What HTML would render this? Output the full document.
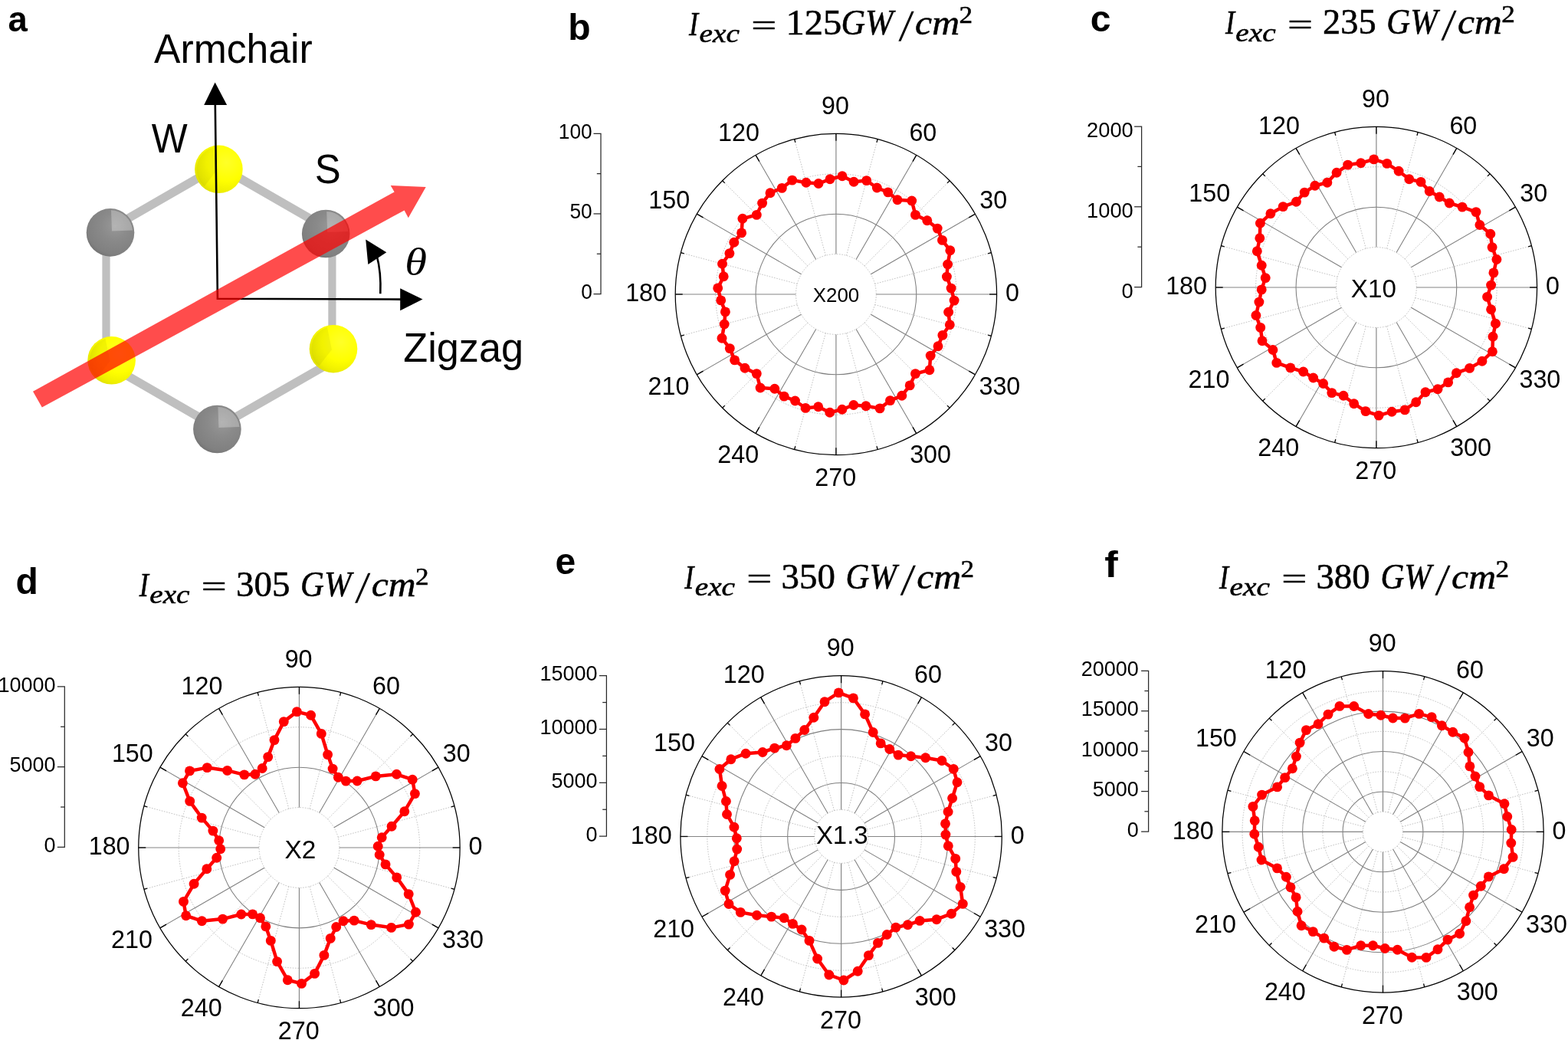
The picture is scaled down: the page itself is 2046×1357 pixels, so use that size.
<!DOCTYPE html>
<html><head><meta charset="utf-8"><title>Polar SHG figure</title>
<style>
html,body{margin:0;padding:0;background:#fff;width:2046px;height:1357px;overflow:hidden}
svg{display:block}
.mn{fill:none;stroke:#c2c2c2;stroke-width:1;stroke-dasharray:1.6 1.7}
.mj{fill:none;stroke:#7e7e7e;stroke-width:1.05}
.mjx{fill:none;stroke:#848484;stroke-width:1.15}
.tk{stroke:#000;stroke-width:1.3}
.oc{fill:none;stroke:#000;stroke-width:1.25}
.ax{fill:none;stroke:#2a2a2a;stroke-width:1.25}
.dl{fill:none;stroke:#ff0000;stroke-width:4.5;stroke-linejoin:round}
.dp{fill:#ff0000}
</style></head><body>
<svg width="2046" height="1357" viewBox="0 0 2046 1357">
<rect width="2046" height="1357" fill="#fff"/>
<defs>
<radialGradient id="gy" cx="0.66" cy="0.36" r="0.78"><stop offset="0" stop-color="#ffff28"/><stop offset="0.5" stop-color="#ffff00"/><stop offset="0.78" stop-color="#efef00"/><stop offset="0.93" stop-color="#dede00"/><stop offset="1" stop-color="#c4c41a"/></radialGradient>
<radialGradient id="gg" cx="0.6" cy="0.36" r="0.72"><stop offset="0" stop-color="#989898"/><stop offset="0.4" stop-color="#8a8a8a"/><stop offset="0.82" stop-color="#808080"/><stop offset="0.95" stop-color="#727272"/><stop offset="1" stop-color="#6a6a6a"/></radialGradient>
</defs>
<line x1="285.4" y1="216.7" x2="138.5" y2="301.5" stroke="#bfbfbf" stroke-width="11.2" stroke-linecap="round"/>
<line x1="285.4" y1="216.7" x2="433.4" y2="301.9" stroke="#bfbfbf" stroke-width="11.2" stroke-linecap="round"/>
<line x1="138.5" y1="301.5" x2="138.5" y2="474.3" stroke="#bfbfbf" stroke-width="10.2" stroke-linecap="round"/>
<line x1="433.4" y1="301.9" x2="433.4" y2="472.0" stroke="#bfbfbf" stroke-width="10.2" stroke-linecap="round"/>
<line x1="138.5" y1="474.3" x2="283.4" y2="558.0" stroke="#bfbfbf" stroke-width="11.2" stroke-linecap="round"/>
<line x1="433.4" y1="472.0" x2="283.4" y2="558.0" stroke="#bfbfbf" stroke-width="11.2" stroke-linecap="round"/>
<circle cx="144.0" cy="303.4" r="31.3" fill="url(#gg)"/>
<path d="M146.0 301.4 L145.0 274.3 A29.1 29.1 0 0 1 173.1 300.4 Z" fill="#fff" fill-opacity="0.27"/>
<circle cx="425.2" cy="305.0" r="31.3" fill="url(#gg)"/>
<path d="M427.2 303.0 L426.2 275.9 A29.1 29.1 0 0 1 454.3 302.0 Z" fill="#fff" fill-opacity="0.27"/>
<circle cx="283.4" cy="560.0" r="31.3" fill="url(#gg)"/>
<path d="M285.4 558.0 L284.4 530.9 A29.1 29.1 0 0 1 312.5 557.0 Z" fill="#fff" fill-opacity="0.27"/>
<circle cx="285.4" cy="220.8" r="31.3" fill="url(#gy)"/>
<path d="M283.4 221.8 L277.4 192.6 A29.7 29.7 0 0 0 266.6 243.3 Z" fill="#000" fill-opacity="0.05"/>
<circle cx="145.6" cy="470.3" r="31.3" fill="url(#gy)"/>
<path d="M143.6 471.3 L137.6 442.1 A29.7 29.7 0 0 0 126.8 492.8 Z" fill="#000" fill-opacity="0.05"/>
<circle cx="435.0" cy="455.2" r="31.3" fill="url(#gy)"/>
<path d="M433.0 456.2 L427.0 427.0 A29.7 29.7 0 0 0 416.2 477.7 Z" fill="#000" fill-opacity="0.05"/>
<path d="M280.8 137 L283.9 389.7 L523 390.6" fill="none" stroke="#000" stroke-width="2.6" stroke-linejoin="miter"/>
<path d="M280.6 107.5 L266.2 137 L296.1 137Z" fill="#000"/>
<path d="M551.5 390.6 L522.2 376.2 L522.2 405.2Z" fill="#000"/>
<path d="M496.3 383.3 Q497.5 355 491.5 333" fill="none" stroke="#000" stroke-width="2.6"/>
<path d="M477.2 312.5 L504.3 329.3 L480.3 345.1Z" fill="#000"/>
<path d="M43.0 510.8 L514.6 250.4 L509.7 242.0 L555.7 244.1 L532.8 284.2 L527.6 274.4 L54.8 531.6Z" fill="#ff0000" fill-opacity="0.7"/>
<text x="10.49" y="41.39" style="font-family:'Liberation Sans',sans-serif;font-weight:bold;font-size:45.50px" fill="#000">a</text>
<text x="201.00" y="82.40" style="font-family:'Liberation Sans',sans-serif;font-size:52.78px" fill="#000" textLength="206.75" lengthAdjust="spacingAndGlyphs">Armchair</text>
<text x="197.80" y="198.90" style="font-family:'Liberation Sans',sans-serif;font-size:52.78px" fill="#000" textLength="46.94" lengthAdjust="spacingAndGlyphs">W</text>
<text x="410.71" y="239.34" style="font-family:'Liberation Sans',sans-serif;font-size:52.78px" fill="#000" textLength="33.93" lengthAdjust="spacingAndGlyphs">S</text>
<text x="526.27" y="471.90" style="font-family:'Liberation Sans',sans-serif;font-size:52.78px" fill="#000" textLength="156.87" lengthAdjust="spacingAndGlyphs">Zigzag</text>
<text x="528.26" y="358.99" style="font-family:'Liberation Serif',serif;font-style:italic;font-size:50.00px" fill="#000" textLength="28.76" lengthAdjust="spacingAndGlyphs">θ</text>
<circle cx="1090.90" cy="384.00" r="52.42" class="mn"/>
<circle cx="1090.90" cy="384.00" r="157.27" class="mn"/>
<circle cx="1090.90" cy="384.00" r="104.85" class="mj"/>
<line x1="1141.54" y1="370.43" x2="1293.45" y2="329.73" class="mn"/>
<line x1="1127.97" y1="346.93" x2="1239.18" y2="235.72" class="mn"/>
<line x1="1104.47" y1="333.36" x2="1145.17" y2="181.45" class="mn"/>
<line x1="1077.33" y1="333.36" x2="1036.63" y2="181.45" class="mn"/>
<line x1="1053.83" y1="346.93" x2="942.62" y2="235.72" class="mn"/>
<line x1="1040.26" y1="370.43" x2="888.35" y2="329.73" class="mn"/>
<line x1="1040.26" y1="397.57" x2="888.35" y2="438.27" class="mn"/>
<line x1="1053.83" y1="421.07" x2="942.62" y2="532.28" class="mn"/>
<line x1="1077.33" y1="434.64" x2="1036.63" y2="586.55" class="mn"/>
<line x1="1104.47" y1="434.64" x2="1145.17" y2="586.55" class="mn"/>
<line x1="1127.97" y1="421.07" x2="1239.18" y2="532.28" class="mn"/>
<line x1="1141.54" y1="397.57" x2="1293.45" y2="438.27" class="mn"/>
<line x1="1143.33" y1="384.00" x2="1300.60" y2="384.00" class="mjx"/>
<line x1="1136.30" y1="357.79" x2="1272.51" y2="279.15" class="mj"/>
<line x1="1117.11" y1="338.60" x2="1195.75" y2="202.39" class="mj"/>
<line x1="1090.90" y1="331.57" x2="1090.90" y2="174.30" class="mjx"/>
<line x1="1064.69" y1="338.60" x2="986.05" y2="202.39" class="mj"/>
<line x1="1045.50" y1="357.79" x2="909.29" y2="279.15" class="mj"/>
<line x1="1038.48" y1="384.00" x2="881.20" y2="384.00" class="mjx"/>
<line x1="1045.50" y1="410.21" x2="909.29" y2="488.85" class="mj"/>
<line x1="1064.69" y1="429.40" x2="986.05" y2="565.61" class="mj"/>
<line x1="1090.90" y1="436.43" x2="1090.90" y2="593.70" class="mjx"/>
<line x1="1117.11" y1="429.40" x2="1195.75" y2="565.61" class="mj"/>
<line x1="1136.30" y1="410.21" x2="1272.51" y2="488.85" class="mj"/>
<line x1="1291.10" y1="384.00" x2="1300.60" y2="384.00" class="tk"/>
<line x1="1264.28" y1="283.90" x2="1272.51" y2="279.15" class="tk"/>
<line x1="1191.00" y1="210.62" x2="1195.75" y2="202.39" class="tk"/>
<line x1="1090.90" y1="183.80" x2="1090.90" y2="174.30" class="tk"/>
<line x1="990.80" y1="210.62" x2="986.05" y2="202.39" class="tk"/>
<line x1="917.52" y1="283.90" x2="909.29" y2="279.15" class="tk"/>
<line x1="890.70" y1="384.00" x2="881.20" y2="384.00" class="tk"/>
<line x1="917.52" y1="484.10" x2="909.29" y2="488.85" class="tk"/>
<line x1="990.80" y1="557.38" x2="986.05" y2="565.61" class="tk"/>
<line x1="1090.90" y1="584.20" x2="1090.90" y2="593.70" class="tk"/>
<line x1="1191.00" y1="557.38" x2="1195.75" y2="565.61" class="tk"/>
<line x1="1264.28" y1="484.10" x2="1272.51" y2="488.85" class="tk"/>
<line x1="1289.11" y1="330.89" x2="1293.45" y2="329.73" class="tk"/>
<line x1="1236.00" y1="238.90" x2="1239.18" y2="235.72" class="tk"/>
<line x1="1144.01" y1="185.79" x2="1145.17" y2="181.45" class="tk"/>
<line x1="1037.79" y1="185.79" x2="1036.63" y2="181.45" class="tk"/>
<line x1="945.80" y1="238.90" x2="942.62" y2="235.72" class="tk"/>
<line x1="892.69" y1="330.89" x2="888.35" y2="329.73" class="tk"/>
<line x1="892.69" y1="437.11" x2="888.35" y2="438.27" class="tk"/>
<line x1="945.80" y1="529.10" x2="942.62" y2="532.28" class="tk"/>
<line x1="1037.79" y1="582.21" x2="1036.63" y2="586.55" class="tk"/>
<line x1="1144.01" y1="582.21" x2="1145.17" y2="586.55" class="tk"/>
<line x1="1236.00" y1="529.10" x2="1239.18" y2="532.28" class="tk"/>
<line x1="1289.11" y1="437.11" x2="1293.45" y2="438.27" class="tk"/>
<circle cx="1090.90" cy="384.00" r="209.70" class="oc"/>
<polygon points="1241.1,376.1 1235.4,361.1 1236.6,345.0 1239.8,326.8 1229.5,313.4 1223.2,298.1 1209.8,287.7 1194.5,280.4 1189.7,262.0 1171.0,260.7 1158.7,250.9 1144.3,245.0 1130.7,235.6 1114.1,237.3 1099.0,229.8 1083.0,233.8 1068.0,239.5 1051.9,238.3 1033.7,235.1 1020.3,245.4 1005.0,251.7 994.6,265.1 987.3,280.4 968.9,285.2 967.6,303.9 957.8,316.2 951.9,330.6 942.5,344.2 944.2,360.8 936.7,375.9 940.7,391.9 946.4,406.9 945.2,423.0 942.0,441.2 952.3,454.6 958.6,469.9 972.0,480.3 987.3,487.6 992.1,506.0 1010.8,507.3 1023.1,517.1 1037.5,523.0 1051.1,532.4 1067.7,530.7 1082.8,538.2 1098.8,534.2 1113.8,528.5 1129.9,529.7 1148.1,532.9 1161.5,522.6 1176.8,516.3 1187.2,502.9 1194.5,487.6 1212.9,482.8 1214.2,464.1 1224.0,451.8 1229.9,437.4 1239.3,423.8 1237.6,407.2 1245.1,392.1" class="dl"/>
<g class="dp"><circle cx="1241.1" cy="376.1" r="6.45"/><circle cx="1235.4" cy="361.1" r="6.45"/><circle cx="1236.6" cy="345.0" r="6.45"/><circle cx="1239.8" cy="326.8" r="6.45"/><circle cx="1229.5" cy="313.4" r="6.45"/><circle cx="1223.2" cy="298.1" r="6.45"/><circle cx="1209.8" cy="287.7" r="6.45"/><circle cx="1194.5" cy="280.4" r="6.45"/><circle cx="1189.7" cy="262.0" r="6.45"/><circle cx="1171.0" cy="260.7" r="6.45"/><circle cx="1158.7" cy="250.9" r="6.45"/><circle cx="1144.3" cy="245.0" r="6.45"/><circle cx="1130.7" cy="235.6" r="6.45"/><circle cx="1114.1" cy="237.3" r="6.45"/><circle cx="1099.0" cy="229.8" r="6.45"/><circle cx="1083.0" cy="233.8" r="6.45"/><circle cx="1068.0" cy="239.5" r="6.45"/><circle cx="1051.9" cy="238.3" r="6.45"/><circle cx="1033.7" cy="235.1" r="6.45"/><circle cx="1020.3" cy="245.4" r="6.45"/><circle cx="1005.0" cy="251.7" r="6.45"/><circle cx="994.6" cy="265.1" r="6.45"/><circle cx="987.3" cy="280.4" r="6.45"/><circle cx="968.9" cy="285.2" r="6.45"/><circle cx="967.6" cy="303.9" r="6.45"/><circle cx="957.8" cy="316.2" r="6.45"/><circle cx="951.9" cy="330.6" r="6.45"/><circle cx="942.5" cy="344.2" r="6.45"/><circle cx="944.2" cy="360.8" r="6.45"/><circle cx="936.7" cy="375.9" r="6.45"/><circle cx="940.7" cy="391.9" r="6.45"/><circle cx="946.4" cy="406.9" r="6.45"/><circle cx="945.2" cy="423.0" r="6.45"/><circle cx="942.0" cy="441.2" r="6.45"/><circle cx="952.3" cy="454.6" r="6.45"/><circle cx="958.6" cy="469.9" r="6.45"/><circle cx="972.0" cy="480.3" r="6.45"/><circle cx="987.3" cy="487.6" r="6.45"/><circle cx="992.1" cy="506.0" r="6.45"/><circle cx="1010.8" cy="507.3" r="6.45"/><circle cx="1023.1" cy="517.1" r="6.45"/><circle cx="1037.5" cy="523.0" r="6.45"/><circle cx="1051.1" cy="532.4" r="6.45"/><circle cx="1067.7" cy="530.7" r="6.45"/><circle cx="1082.8" cy="538.2" r="6.45"/><circle cx="1098.8" cy="534.2" r="6.45"/><circle cx="1113.8" cy="528.5" r="6.45"/><circle cx="1129.9" cy="529.7" r="6.45"/><circle cx="1148.1" cy="532.9" r="6.45"/><circle cx="1161.5" cy="522.6" r="6.45"/><circle cx="1176.8" cy="516.3" r="6.45"/><circle cx="1187.2" cy="502.9" r="6.45"/><circle cx="1194.5" cy="487.6" r="6.45"/><circle cx="1212.9" cy="482.8" r="6.45"/><circle cx="1214.2" cy="464.1" r="6.45"/><circle cx="1224.0" cy="451.8" r="6.45"/><circle cx="1229.9" cy="437.4" r="6.45"/><circle cx="1239.3" cy="423.8" r="6.45"/><circle cx="1237.6" cy="407.2" r="6.45"/><circle cx="1245.1" cy="392.1" r="6.45"/></g>
<text x="1072.08" y="148.59" style="font-family:'Liberation Sans',sans-serif;font-size:33.43px" fill="#000" textLength="35.93" lengthAdjust="spacingAndGlyphs">90</text>
<text x="937.05" y="183.59" style="font-family:'Liberation Sans',sans-serif;font-size:33.43px" fill="#000" textLength="53.89" lengthAdjust="spacingAndGlyphs">120</text>
<text x="1186.38" y="183.59" style="font-family:'Liberation Sans',sans-serif;font-size:33.43px" fill="#000" textLength="35.93" lengthAdjust="spacingAndGlyphs">60</text>
<text x="846.35" y="272.29" style="font-family:'Liberation Sans',sans-serif;font-size:33.43px" fill="#000" textLength="53.89" lengthAdjust="spacingAndGlyphs">150</text>
<text x="1278.23" y="272.29" style="font-family:'Liberation Sans',sans-serif;font-size:33.43px" fill="#000" textLength="35.93" lengthAdjust="spacingAndGlyphs">30</text>
<text x="816.15" y="393.29" style="font-family:'Liberation Sans',sans-serif;font-size:33.43px" fill="#000" textLength="53.89" lengthAdjust="spacingAndGlyphs">180</text>
<text x="1312.02" y="393.29" style="font-family:'Liberation Sans',sans-serif;font-size:33.43px" fill="#000" textLength="17.96" lengthAdjust="spacingAndGlyphs">0</text>
<text x="845.50" y="515.39" style="font-family:'Liberation Sans',sans-serif;font-size:33.43px" fill="#000" textLength="53.89" lengthAdjust="spacingAndGlyphs">210</text>
<text x="1277.45" y="515.39" style="font-family:'Liberation Sans',sans-serif;font-size:33.43px" fill="#000" textLength="53.89" lengthAdjust="spacingAndGlyphs">330</text>
<text x="936.30" y="604.09" style="font-family:'Liberation Sans',sans-serif;font-size:33.43px" fill="#000" textLength="53.89" lengthAdjust="spacingAndGlyphs">240</text>
<text x="1187.15" y="604.09" style="font-family:'Liberation Sans',sans-serif;font-size:33.43px" fill="#000" textLength="53.89" lengthAdjust="spacingAndGlyphs">300</text>
<text x="1063.30" y="634.39" style="font-family:'Liberation Sans',sans-serif;font-size:33.43px" fill="#000" textLength="53.89" lengthAdjust="spacingAndGlyphs">270</text>
<path d="M774.50 174.30H784.00V383.60H774.50" class="ax"/>
<line x1="774.50" y1="278.95" x2="784.00" y2="278.95" class="ax"/>
<line x1="778.80" y1="331.28" x2="784.00" y2="331.28" class="ax"/>
<line x1="778.80" y1="226.62" x2="784.00" y2="226.62" class="ax"/>
<text x="758.13" y="389.96" style="font-family:'Liberation Sans',sans-serif;font-size:27.22px" fill="#000" textLength="14.63" lengthAdjust="spacingAndGlyphs">0</text>
<text x="743.50" y="285.31" style="font-family:'Liberation Sans',sans-serif;font-size:27.22px" fill="#000" textLength="29.25" lengthAdjust="spacingAndGlyphs">50</text>
<text x="728.87" y="180.66" style="font-family:'Liberation Sans',sans-serif;font-size:27.22px" fill="#000" textLength="43.88" lengthAdjust="spacingAndGlyphs">100</text>
<text x="1060.80" y="394.07" style="font-family:'Liberation Sans',sans-serif;font-size:26.39px" fill="#000" textLength="60.45" lengthAdjust="spacingAndGlyphs">X200</text>
<circle cx="1795.90" cy="375.00" r="52.42" class="mn"/>
<circle cx="1795.90" cy="375.00" r="157.27" class="mn"/>
<circle cx="1795.90" cy="375.00" r="104.85" class="mj"/>
<line x1="1846.54" y1="361.43" x2="1998.45" y2="320.73" class="mn"/>
<line x1="1832.97" y1="337.93" x2="1944.18" y2="226.72" class="mn"/>
<line x1="1809.47" y1="324.36" x2="1850.17" y2="172.45" class="mn"/>
<line x1="1782.33" y1="324.36" x2="1741.63" y2="172.45" class="mn"/>
<line x1="1758.83" y1="337.93" x2="1647.62" y2="226.72" class="mn"/>
<line x1="1745.26" y1="361.43" x2="1593.35" y2="320.73" class="mn"/>
<line x1="1745.26" y1="388.57" x2="1593.35" y2="429.27" class="mn"/>
<line x1="1758.83" y1="412.07" x2="1647.62" y2="523.28" class="mn"/>
<line x1="1782.33" y1="425.64" x2="1741.63" y2="577.55" class="mn"/>
<line x1="1809.47" y1="425.64" x2="1850.17" y2="577.55" class="mn"/>
<line x1="1832.97" y1="412.07" x2="1944.18" y2="523.28" class="mn"/>
<line x1="1846.54" y1="388.57" x2="1998.45" y2="429.27" class="mn"/>
<line x1="1848.33" y1="375.00" x2="2005.60" y2="375.00" class="mjx"/>
<line x1="1841.30" y1="348.79" x2="1977.51" y2="270.15" class="mj"/>
<line x1="1822.11" y1="329.60" x2="1900.75" y2="193.39" class="mj"/>
<line x1="1795.90" y1="322.57" x2="1795.90" y2="165.30" class="mjx"/>
<line x1="1769.69" y1="329.60" x2="1691.05" y2="193.39" class="mj"/>
<line x1="1750.50" y1="348.79" x2="1614.29" y2="270.15" class="mj"/>
<line x1="1743.48" y1="375.00" x2="1586.20" y2="375.00" class="mjx"/>
<line x1="1750.50" y1="401.21" x2="1614.29" y2="479.85" class="mj"/>
<line x1="1769.69" y1="420.40" x2="1691.05" y2="556.61" class="mj"/>
<line x1="1795.90" y1="427.43" x2="1795.90" y2="584.70" class="mjx"/>
<line x1="1822.11" y1="420.40" x2="1900.75" y2="556.61" class="mj"/>
<line x1="1841.30" y1="401.21" x2="1977.51" y2="479.85" class="mj"/>
<line x1="1996.10" y1="375.00" x2="2005.60" y2="375.00" class="tk"/>
<line x1="1969.28" y1="274.90" x2="1977.51" y2="270.15" class="tk"/>
<line x1="1896.00" y1="201.62" x2="1900.75" y2="193.39" class="tk"/>
<line x1="1795.90" y1="174.80" x2="1795.90" y2="165.30" class="tk"/>
<line x1="1695.80" y1="201.62" x2="1691.05" y2="193.39" class="tk"/>
<line x1="1622.52" y1="274.90" x2="1614.29" y2="270.15" class="tk"/>
<line x1="1595.70" y1="375.00" x2="1586.20" y2="375.00" class="tk"/>
<line x1="1622.52" y1="475.10" x2="1614.29" y2="479.85" class="tk"/>
<line x1="1695.80" y1="548.38" x2="1691.05" y2="556.61" class="tk"/>
<line x1="1795.90" y1="575.20" x2="1795.90" y2="584.70" class="tk"/>
<line x1="1896.00" y1="548.38" x2="1900.75" y2="556.61" class="tk"/>
<line x1="1969.28" y1="475.10" x2="1977.51" y2="479.85" class="tk"/>
<line x1="1994.11" y1="321.89" x2="1998.45" y2="320.73" class="tk"/>
<line x1="1941.00" y1="229.90" x2="1944.18" y2="226.72" class="tk"/>
<line x1="1849.01" y1="176.79" x2="1850.17" y2="172.45" class="tk"/>
<line x1="1742.79" y1="176.79" x2="1741.63" y2="172.45" class="tk"/>
<line x1="1650.80" y1="229.90" x2="1647.62" y2="226.72" class="tk"/>
<line x1="1597.69" y1="321.89" x2="1593.35" y2="320.73" class="tk"/>
<line x1="1597.69" y1="428.11" x2="1593.35" y2="429.27" class="tk"/>
<line x1="1650.80" y1="520.10" x2="1647.62" y2="523.28" class="tk"/>
<line x1="1742.79" y1="573.21" x2="1741.63" y2="577.55" class="tk"/>
<line x1="1849.01" y1="573.21" x2="1850.17" y2="577.55" class="tk"/>
<line x1="1941.00" y1="520.10" x2="1944.18" y2="523.28" class="tk"/>
<line x1="1994.11" y1="428.11" x2="1998.45" y2="429.27" class="tk"/>
<circle cx="1795.90" cy="375.00" r="209.70" class="oc"/>
<polygon points="1945.6,372.1 1948.9,355.9 1952.9,338.5 1947.1,322.6 1944.8,305.3 1930.9,293.5 1926.0,276.6 1908.0,270.1 1891.2,265.0 1878.2,257.0 1865.2,249.5 1854.0,237.4 1838.8,233.8 1825.1,223.3 1809.8,213.4 1792.7,207.9 1775.7,212.8 1758.7,215.1 1744.1,225.3 1731.8,238.2 1715.8,242.3 1702.2,251.1 1691.4,263.3 1674.2,269.6 1657.9,278.7 1644.4,291.3 1643.8,310.8 1640.3,327.7 1646.2,346.2 1651.2,362.6 1646.2,377.9 1642.9,394.1 1638.9,411.5 1644.7,427.4 1647.0,444.7 1660.9,456.5 1665.8,473.4 1683.8,479.9 1700.6,485.0 1713.6,493.0 1726.6,500.5 1737.8,512.6 1753.0,516.2 1766.7,526.7 1782.0,536.6 1799.1,542.1 1816.1,537.2 1833.1,534.9 1847.7,524.7 1860.0,511.8 1876.0,507.7 1889.6,498.9 1900.4,486.7 1917.6,480.4 1933.9,471.3 1947.4,458.7 1948.0,439.2 1951.5,422.3 1945.6,403.8 1940.6,387.4" class="dl"/>
<g class="dp"><circle cx="1945.6" cy="372.1" r="6.45"/><circle cx="1948.9" cy="355.9" r="6.45"/><circle cx="1952.9" cy="338.5" r="6.45"/><circle cx="1947.1" cy="322.6" r="6.45"/><circle cx="1944.8" cy="305.3" r="6.45"/><circle cx="1930.9" cy="293.5" r="6.45"/><circle cx="1926.0" cy="276.6" r="6.45"/><circle cx="1908.0" cy="270.1" r="6.45"/><circle cx="1891.2" cy="265.0" r="6.45"/><circle cx="1878.2" cy="257.0" r="6.45"/><circle cx="1865.2" cy="249.5" r="6.45"/><circle cx="1854.0" cy="237.4" r="6.45"/><circle cx="1838.8" cy="233.8" r="6.45"/><circle cx="1825.1" cy="223.3" r="6.45"/><circle cx="1809.8" cy="213.4" r="6.45"/><circle cx="1792.7" cy="207.9" r="6.45"/><circle cx="1775.7" cy="212.8" r="6.45"/><circle cx="1758.7" cy="215.1" r="6.45"/><circle cx="1744.1" cy="225.3" r="6.45"/><circle cx="1731.8" cy="238.2" r="6.45"/><circle cx="1715.8" cy="242.3" r="6.45"/><circle cx="1702.2" cy="251.1" r="6.45"/><circle cx="1691.4" cy="263.3" r="6.45"/><circle cx="1674.2" cy="269.6" r="6.45"/><circle cx="1657.9" cy="278.7" r="6.45"/><circle cx="1644.4" cy="291.3" r="6.45"/><circle cx="1643.8" cy="310.8" r="6.45"/><circle cx="1640.3" cy="327.7" r="6.45"/><circle cx="1646.2" cy="346.2" r="6.45"/><circle cx="1651.2" cy="362.6" r="6.45"/><circle cx="1646.2" cy="377.9" r="6.45"/><circle cx="1642.9" cy="394.1" r="6.45"/><circle cx="1638.9" cy="411.5" r="6.45"/><circle cx="1644.7" cy="427.4" r="6.45"/><circle cx="1647.0" cy="444.7" r="6.45"/><circle cx="1660.9" cy="456.5" r="6.45"/><circle cx="1665.8" cy="473.4" r="6.45"/><circle cx="1683.8" cy="479.9" r="6.45"/><circle cx="1700.6" cy="485.0" r="6.45"/><circle cx="1713.6" cy="493.0" r="6.45"/><circle cx="1726.6" cy="500.5" r="6.45"/><circle cx="1737.8" cy="512.6" r="6.45"/><circle cx="1753.0" cy="516.2" r="6.45"/><circle cx="1766.7" cy="526.7" r="6.45"/><circle cx="1782.0" cy="536.6" r="6.45"/><circle cx="1799.1" cy="542.1" r="6.45"/><circle cx="1816.1" cy="537.2" r="6.45"/><circle cx="1833.1" cy="534.9" r="6.45"/><circle cx="1847.7" cy="524.7" r="6.45"/><circle cx="1860.0" cy="511.8" r="6.45"/><circle cx="1876.0" cy="507.7" r="6.45"/><circle cx="1889.6" cy="498.9" r="6.45"/><circle cx="1900.4" cy="486.7" r="6.45"/><circle cx="1917.6" cy="480.4" r="6.45"/><circle cx="1933.9" cy="471.3" r="6.45"/><circle cx="1947.4" cy="458.7" r="6.45"/><circle cx="1948.0" cy="439.2" r="6.45"/><circle cx="1951.5" cy="422.3" r="6.45"/><circle cx="1945.6" cy="403.8" r="6.45"/><circle cx="1940.6" cy="387.4" r="6.45"/></g>
<text x="1777.08" y="139.59" style="font-family:'Liberation Sans',sans-serif;font-size:33.43px" fill="#000" textLength="35.93" lengthAdjust="spacingAndGlyphs">90</text>
<text x="1642.05" y="174.59" style="font-family:'Liberation Sans',sans-serif;font-size:33.43px" fill="#000" textLength="53.89" lengthAdjust="spacingAndGlyphs">120</text>
<text x="1891.38" y="174.59" style="font-family:'Liberation Sans',sans-serif;font-size:33.43px" fill="#000" textLength="35.93" lengthAdjust="spacingAndGlyphs">60</text>
<text x="1551.35" y="263.29" style="font-family:'Liberation Sans',sans-serif;font-size:33.43px" fill="#000" textLength="53.89" lengthAdjust="spacingAndGlyphs">150</text>
<text x="1983.23" y="263.29" style="font-family:'Liberation Sans',sans-serif;font-size:33.43px" fill="#000" textLength="35.93" lengthAdjust="spacingAndGlyphs">30</text>
<text x="1521.15" y="384.29" style="font-family:'Liberation Sans',sans-serif;font-size:33.43px" fill="#000" textLength="53.89" lengthAdjust="spacingAndGlyphs">180</text>
<text x="2017.02" y="384.29" style="font-family:'Liberation Sans',sans-serif;font-size:33.43px" fill="#000" textLength="17.96" lengthAdjust="spacingAndGlyphs">0</text>
<text x="1550.50" y="506.39" style="font-family:'Liberation Sans',sans-serif;font-size:33.43px" fill="#000" textLength="53.89" lengthAdjust="spacingAndGlyphs">210</text>
<text x="1982.45" y="506.39" style="font-family:'Liberation Sans',sans-serif;font-size:33.43px" fill="#000" textLength="53.89" lengthAdjust="spacingAndGlyphs">330</text>
<text x="1641.30" y="595.09" style="font-family:'Liberation Sans',sans-serif;font-size:33.43px" fill="#000" textLength="53.89" lengthAdjust="spacingAndGlyphs">240</text>
<text x="1892.15" y="595.09" style="font-family:'Liberation Sans',sans-serif;font-size:33.43px" fill="#000" textLength="53.89" lengthAdjust="spacingAndGlyphs">300</text>
<text x="1768.30" y="625.39" style="font-family:'Liberation Sans',sans-serif;font-size:33.43px" fill="#000" textLength="53.89" lengthAdjust="spacingAndGlyphs">270</text>
<path d="M1480.10 165.00H1489.60V374.60H1480.10" class="ax"/>
<line x1="1480.10" y1="269.80" x2="1489.60" y2="269.80" class="ax"/>
<line x1="1484.40" y1="322.20" x2="1489.60" y2="322.20" class="ax"/>
<line x1="1484.40" y1="217.40" x2="1489.60" y2="217.40" class="ax"/>
<text x="1463.60" y="388.91" style="font-family:'Liberation Sans',sans-serif;font-size:28.26px" fill="#000" textLength="15.18" lengthAdjust="spacingAndGlyphs">0</text>
<text x="1418.05" y="284.11" style="font-family:'Liberation Sans',sans-serif;font-size:28.26px" fill="#000" textLength="60.73" lengthAdjust="spacingAndGlyphs">1000</text>
<text x="1418.05" y="179.31" style="font-family:'Liberation Sans',sans-serif;font-size:28.26px" fill="#000" textLength="60.73" lengthAdjust="spacingAndGlyphs">2000</text>
<text x="1762.88" y="387.88" style="font-family:'Liberation Sans',sans-serif;font-size:33.12px" fill="#000" textLength="59.04" lengthAdjust="spacingAndGlyphs">X10</text>
<circle cx="390.45" cy="1106.00" r="52.42" class="mn"/>
<circle cx="390.45" cy="1106.00" r="157.27" class="mn"/>
<circle cx="390.45" cy="1106.00" r="104.85" class="mj"/>
<line x1="441.09" y1="1092.43" x2="593.00" y2="1051.73" class="mn"/>
<line x1="427.52" y1="1068.93" x2="538.73" y2="957.72" class="mn"/>
<line x1="404.02" y1="1055.36" x2="444.72" y2="903.45" class="mn"/>
<line x1="376.88" y1="1055.36" x2="336.18" y2="903.45" class="mn"/>
<line x1="353.38" y1="1068.93" x2="242.17" y2="957.72" class="mn"/>
<line x1="339.81" y1="1092.43" x2="187.90" y2="1051.73" class="mn"/>
<line x1="339.81" y1="1119.57" x2="187.90" y2="1160.27" class="mn"/>
<line x1="353.38" y1="1143.07" x2="242.17" y2="1254.28" class="mn"/>
<line x1="376.88" y1="1156.64" x2="336.18" y2="1308.55" class="mn"/>
<line x1="404.02" y1="1156.64" x2="444.72" y2="1308.55" class="mn"/>
<line x1="427.52" y1="1143.07" x2="538.73" y2="1254.28" class="mn"/>
<line x1="441.09" y1="1119.57" x2="593.00" y2="1160.27" class="mn"/>
<line x1="442.88" y1="1106.00" x2="600.15" y2="1106.00" class="mjx"/>
<line x1="435.85" y1="1079.79" x2="572.06" y2="1001.15" class="mj"/>
<line x1="416.66" y1="1060.60" x2="495.30" y2="924.39" class="mj"/>
<line x1="390.45" y1="1053.58" x2="390.45" y2="896.30" class="mjx"/>
<line x1="364.24" y1="1060.60" x2="285.60" y2="924.39" class="mj"/>
<line x1="345.05" y1="1079.79" x2="208.84" y2="1001.15" class="mj"/>
<line x1="338.02" y1="1106.00" x2="180.75" y2="1106.00" class="mjx"/>
<line x1="345.05" y1="1132.21" x2="208.84" y2="1210.85" class="mj"/>
<line x1="364.24" y1="1151.40" x2="285.60" y2="1287.61" class="mj"/>
<line x1="390.45" y1="1158.42" x2="390.45" y2="1315.70" class="mjx"/>
<line x1="416.66" y1="1151.40" x2="495.30" y2="1287.61" class="mj"/>
<line x1="435.85" y1="1132.21" x2="572.06" y2="1210.85" class="mj"/>
<line x1="590.65" y1="1106.00" x2="600.15" y2="1106.00" class="tk"/>
<line x1="563.83" y1="1005.90" x2="572.06" y2="1001.15" class="tk"/>
<line x1="490.55" y1="932.62" x2="495.30" y2="924.39" class="tk"/>
<line x1="390.45" y1="905.80" x2="390.45" y2="896.30" class="tk"/>
<line x1="290.35" y1="932.62" x2="285.60" y2="924.39" class="tk"/>
<line x1="217.07" y1="1005.90" x2="208.84" y2="1001.15" class="tk"/>
<line x1="190.25" y1="1106.00" x2="180.75" y2="1106.00" class="tk"/>
<line x1="217.07" y1="1206.10" x2="208.84" y2="1210.85" class="tk"/>
<line x1="290.35" y1="1279.38" x2="285.60" y2="1287.61" class="tk"/>
<line x1="390.45" y1="1306.20" x2="390.45" y2="1315.70" class="tk"/>
<line x1="490.55" y1="1279.38" x2="495.30" y2="1287.61" class="tk"/>
<line x1="563.83" y1="1206.10" x2="572.06" y2="1210.85" class="tk"/>
<line x1="588.66" y1="1052.89" x2="593.00" y2="1051.73" class="tk"/>
<line x1="535.55" y1="960.90" x2="538.73" y2="957.72" class="tk"/>
<line x1="443.56" y1="907.79" x2="444.72" y2="903.45" class="tk"/>
<line x1="337.34" y1="907.79" x2="336.18" y2="903.45" class="tk"/>
<line x1="245.35" y1="960.90" x2="242.17" y2="957.72" class="tk"/>
<line x1="192.24" y1="1052.89" x2="187.90" y2="1051.73" class="tk"/>
<line x1="192.24" y1="1159.11" x2="187.90" y2="1160.27" class="tk"/>
<line x1="245.35" y1="1251.10" x2="242.17" y2="1254.28" class="tk"/>
<line x1="337.34" y1="1304.21" x2="336.18" y2="1308.55" class="tk"/>
<line x1="443.56" y1="1304.21" x2="444.72" y2="1308.55" class="tk"/>
<line x1="535.55" y1="1251.10" x2="538.73" y2="1254.28" class="tk"/>
<line x1="588.66" y1="1159.11" x2="593.00" y2="1160.27" class="tk"/>
<circle cx="390.45" cy="1106.00" r="209.70" class="oc"/>
<polygon points="493.2,1104.2 498.2,1092.8 511.1,1078.2 527.8,1058.7 541.4,1035.6 538.2,1017.2 517.5,1010.3 490.3,1012.9 466.1,1019.0 451.3,1019.1 441.4,1014.2 434.1,1003.1 427.6,984.6 419.3,957.4 405.6,933.3 387.4,928.6 370.3,941.6 358.0,965.6 349.7,987.6 342.2,1002.5 332.9,1010.2 318.8,1010.9 296.6,1005.4 270.3,1001.6 247.5,1005.9 238.4,1021.7 247.7,1045.4 263.2,1067.1 277.9,1084.1 285.7,1096.8 287.7,1107.8 282.7,1119.2 269.8,1133.8 253.1,1153.3 239.5,1176.4 242.7,1194.8 263.4,1201.7 290.6,1199.1 314.8,1193.0 329.6,1192.9 339.5,1197.8 346.8,1208.9 353.3,1227.4 361.6,1254.6 375.3,1278.7 393.5,1283.4 410.6,1270.4 422.9,1246.4 431.2,1224.4 438.7,1209.5 448.0,1201.8 462.1,1201.1 484.3,1206.6 510.6,1210.4 533.4,1206.1 542.5,1190.3 533.2,1166.6 517.7,1144.9 503.0,1127.9 495.2,1115.2" class="dl"/>
<g class="dp"><circle cx="493.2" cy="1104.2" r="6.45"/><circle cx="498.2" cy="1092.8" r="6.45"/><circle cx="511.1" cy="1078.2" r="6.45"/><circle cx="527.8" cy="1058.7" r="6.45"/><circle cx="541.4" cy="1035.6" r="6.45"/><circle cx="538.2" cy="1017.2" r="6.45"/><circle cx="517.5" cy="1010.3" r="6.45"/><circle cx="490.3" cy="1012.9" r="6.45"/><circle cx="466.1" cy="1019.0" r="6.45"/><circle cx="451.3" cy="1019.1" r="6.45"/><circle cx="441.4" cy="1014.2" r="6.45"/><circle cx="434.1" cy="1003.1" r="6.45"/><circle cx="427.6" cy="984.6" r="6.45"/><circle cx="419.3" cy="957.4" r="6.45"/><circle cx="405.6" cy="933.3" r="6.45"/><circle cx="387.4" cy="928.6" r="6.45"/><circle cx="370.3" cy="941.6" r="6.45"/><circle cx="358.0" cy="965.6" r="6.45"/><circle cx="349.7" cy="987.6" r="6.45"/><circle cx="342.2" cy="1002.5" r="6.45"/><circle cx="332.9" cy="1010.2" r="6.45"/><circle cx="318.8" cy="1010.9" r="6.45"/><circle cx="296.6" cy="1005.4" r="6.45"/><circle cx="270.3" cy="1001.6" r="6.45"/><circle cx="247.5" cy="1005.9" r="6.45"/><circle cx="238.4" cy="1021.7" r="6.45"/><circle cx="247.7" cy="1045.4" r="6.45"/><circle cx="263.2" cy="1067.1" r="6.45"/><circle cx="277.9" cy="1084.1" r="6.45"/><circle cx="285.7" cy="1096.8" r="6.45"/><circle cx="287.7" cy="1107.8" r="6.45"/><circle cx="282.7" cy="1119.2" r="6.45"/><circle cx="269.8" cy="1133.8" r="6.45"/><circle cx="253.1" cy="1153.3" r="6.45"/><circle cx="239.5" cy="1176.4" r="6.45"/><circle cx="242.7" cy="1194.8" r="6.45"/><circle cx="263.4" cy="1201.7" r="6.45"/><circle cx="290.6" cy="1199.1" r="6.45"/><circle cx="314.8" cy="1193.0" r="6.45"/><circle cx="329.6" cy="1192.9" r="6.45"/><circle cx="339.5" cy="1197.8" r="6.45"/><circle cx="346.8" cy="1208.9" r="6.45"/><circle cx="353.3" cy="1227.4" r="6.45"/><circle cx="361.6" cy="1254.6" r="6.45"/><circle cx="375.3" cy="1278.7" r="6.45"/><circle cx="393.5" cy="1283.4" r="6.45"/><circle cx="410.6" cy="1270.4" r="6.45"/><circle cx="422.9" cy="1246.4" r="6.45"/><circle cx="431.2" cy="1224.4" r="6.45"/><circle cx="438.7" cy="1209.5" r="6.45"/><circle cx="448.0" cy="1201.8" r="6.45"/><circle cx="462.1" cy="1201.1" r="6.45"/><circle cx="484.3" cy="1206.6" r="6.45"/><circle cx="510.6" cy="1210.4" r="6.45"/><circle cx="533.4" cy="1206.1" r="6.45"/><circle cx="542.5" cy="1190.3" r="6.45"/><circle cx="533.2" cy="1166.6" r="6.45"/><circle cx="517.7" cy="1144.9" r="6.45"/><circle cx="503.0" cy="1127.9" r="6.45"/><circle cx="495.2" cy="1115.2" r="6.45"/></g>
<text x="371.63" y="870.59" style="font-family:'Liberation Sans',sans-serif;font-size:33.43px" fill="#000" textLength="35.93" lengthAdjust="spacingAndGlyphs">90</text>
<text x="236.60" y="905.59" style="font-family:'Liberation Sans',sans-serif;font-size:33.43px" fill="#000" textLength="53.89" lengthAdjust="spacingAndGlyphs">120</text>
<text x="485.93" y="905.59" style="font-family:'Liberation Sans',sans-serif;font-size:33.43px" fill="#000" textLength="35.93" lengthAdjust="spacingAndGlyphs">60</text>
<text x="145.90" y="994.29" style="font-family:'Liberation Sans',sans-serif;font-size:33.43px" fill="#000" textLength="53.89" lengthAdjust="spacingAndGlyphs">150</text>
<text x="577.78" y="994.29" style="font-family:'Liberation Sans',sans-serif;font-size:33.43px" fill="#000" textLength="35.93" lengthAdjust="spacingAndGlyphs">30</text>
<text x="115.70" y="1115.29" style="font-family:'Liberation Sans',sans-serif;font-size:33.43px" fill="#000" textLength="53.89" lengthAdjust="spacingAndGlyphs">180</text>
<text x="611.57" y="1115.29" style="font-family:'Liberation Sans',sans-serif;font-size:33.43px" fill="#000" textLength="17.96" lengthAdjust="spacingAndGlyphs">0</text>
<text x="145.05" y="1237.39" style="font-family:'Liberation Sans',sans-serif;font-size:33.43px" fill="#000" textLength="53.89" lengthAdjust="spacingAndGlyphs">210</text>
<text x="577.00" y="1237.39" style="font-family:'Liberation Sans',sans-serif;font-size:33.43px" fill="#000" textLength="53.89" lengthAdjust="spacingAndGlyphs">330</text>
<text x="235.85" y="1326.09" style="font-family:'Liberation Sans',sans-serif;font-size:33.43px" fill="#000" textLength="53.89" lengthAdjust="spacingAndGlyphs">240</text>
<text x="486.70" y="1326.09" style="font-family:'Liberation Sans',sans-serif;font-size:33.43px" fill="#000" textLength="53.89" lengthAdjust="spacingAndGlyphs">300</text>
<text x="362.85" y="1356.39" style="font-family:'Liberation Sans',sans-serif;font-size:33.43px" fill="#000" textLength="53.89" lengthAdjust="spacingAndGlyphs">270</text>
<path d="M74.80 895.90H84.30V1105.40H74.80" class="ax"/>
<line x1="74.80" y1="1000.65" x2="84.30" y2="1000.65" class="ax"/>
<line x1="79.10" y1="1053.03" x2="84.30" y2="1053.03" class="ax"/>
<line x1="79.10" y1="948.27" x2="84.30" y2="948.27" class="ax"/>
<text x="57.46" y="1112.01" style="font-family:'Liberation Sans',sans-serif;font-size:27.94px" fill="#000" textLength="15.02" lengthAdjust="spacingAndGlyphs">0</text>
<text x="12.41" y="1007.26" style="font-family:'Liberation Sans',sans-serif;font-size:27.94px" fill="#000" textLength="60.06" lengthAdjust="spacingAndGlyphs">5000</text>
<text x="-2.61" y="902.51" style="font-family:'Liberation Sans',sans-serif;font-size:27.94px" fill="#000" textLength="75.08" lengthAdjust="spacingAndGlyphs">10000</text>
<text x="371.58" y="1120.44" style="font-family:'Liberation Sans',sans-serif;font-size:33.12px" fill="#000" textLength="40.77" lengthAdjust="spacingAndGlyphs">X2</text>
<circle cx="1097.60" cy="1091.45" r="34.95" class="mn"/>
<circle cx="1097.60" cy="1091.45" r="104.85" class="mn"/>
<circle cx="1097.60" cy="1091.45" r="174.75" class="mn"/>
<circle cx="1097.60" cy="1091.45" r="69.90" class="mj"/>
<circle cx="1097.60" cy="1091.45" r="139.80" class="mj"/>
<line x1="1131.36" y1="1082.40" x2="1300.15" y2="1037.18" class="mn"/>
<line x1="1122.31" y1="1066.74" x2="1245.88" y2="943.17" class="mn"/>
<line x1="1106.65" y1="1057.69" x2="1151.87" y2="888.90" class="mn"/>
<line x1="1088.55" y1="1057.69" x2="1043.33" y2="888.90" class="mn"/>
<line x1="1072.89" y1="1066.74" x2="949.32" y2="943.17" class="mn"/>
<line x1="1063.84" y1="1082.40" x2="895.05" y2="1037.18" class="mn"/>
<line x1="1063.84" y1="1100.50" x2="895.05" y2="1145.72" class="mn"/>
<line x1="1072.89" y1="1116.16" x2="949.32" y2="1239.73" class="mn"/>
<line x1="1088.55" y1="1125.21" x2="1043.33" y2="1294.00" class="mn"/>
<line x1="1106.65" y1="1125.21" x2="1151.87" y2="1294.00" class="mn"/>
<line x1="1122.31" y1="1116.16" x2="1245.88" y2="1239.73" class="mn"/>
<line x1="1131.36" y1="1100.50" x2="1300.15" y2="1145.72" class="mn"/>
<line x1="1132.55" y1="1091.45" x2="1307.30" y2="1091.45" class="mjx"/>
<line x1="1127.87" y1="1073.98" x2="1279.21" y2="986.60" class="mj"/>
<line x1="1115.07" y1="1061.18" x2="1202.45" y2="909.84" class="mj"/>
<line x1="1097.60" y1="1056.50" x2="1097.60" y2="881.75" class="mjx"/>
<line x1="1080.12" y1="1061.18" x2="992.75" y2="909.84" class="mj"/>
<line x1="1067.33" y1="1073.98" x2="915.99" y2="986.60" class="mj"/>
<line x1="1062.65" y1="1091.45" x2="887.90" y2="1091.45" class="mjx"/>
<line x1="1067.33" y1="1108.92" x2="915.99" y2="1196.30" class="mj"/>
<line x1="1080.12" y1="1121.72" x2="992.75" y2="1273.06" class="mj"/>
<line x1="1097.60" y1="1126.40" x2="1097.60" y2="1301.15" class="mjx"/>
<line x1="1115.07" y1="1121.72" x2="1202.45" y2="1273.06" class="mj"/>
<line x1="1127.87" y1="1108.92" x2="1279.21" y2="1196.30" class="mj"/>
<line x1="1297.80" y1="1091.45" x2="1307.30" y2="1091.45" class="tk"/>
<line x1="1270.98" y1="991.35" x2="1279.21" y2="986.60" class="tk"/>
<line x1="1197.70" y1="918.07" x2="1202.45" y2="909.84" class="tk"/>
<line x1="1097.60" y1="891.25" x2="1097.60" y2="881.75" class="tk"/>
<line x1="997.50" y1="918.07" x2="992.75" y2="909.84" class="tk"/>
<line x1="924.22" y1="991.35" x2="915.99" y2="986.60" class="tk"/>
<line x1="897.40" y1="1091.45" x2="887.90" y2="1091.45" class="tk"/>
<line x1="924.22" y1="1191.55" x2="915.99" y2="1196.30" class="tk"/>
<line x1="997.50" y1="1264.83" x2="992.75" y2="1273.06" class="tk"/>
<line x1="1097.60" y1="1291.65" x2="1097.60" y2="1301.15" class="tk"/>
<line x1="1197.70" y1="1264.83" x2="1202.45" y2="1273.06" class="tk"/>
<line x1="1270.98" y1="1191.55" x2="1279.21" y2="1196.30" class="tk"/>
<line x1="1295.81" y1="1038.34" x2="1300.15" y2="1037.18" class="tk"/>
<line x1="1242.70" y1="946.35" x2="1245.88" y2="943.17" class="tk"/>
<line x1="1150.71" y1="893.24" x2="1151.87" y2="888.90" class="tk"/>
<line x1="1044.49" y1="893.24" x2="1043.33" y2="888.90" class="tk"/>
<line x1="952.50" y1="946.35" x2="949.32" y2="943.17" class="tk"/>
<line x1="899.39" y1="1038.34" x2="895.05" y2="1037.18" class="tk"/>
<line x1="899.39" y1="1144.56" x2="895.05" y2="1145.72" class="tk"/>
<line x1="952.50" y1="1236.55" x2="949.32" y2="1239.73" class="tk"/>
<line x1="1044.49" y1="1289.66" x2="1043.33" y2="1294.00" class="tk"/>
<line x1="1150.71" y1="1289.66" x2="1151.87" y2="1294.00" class="tk"/>
<line x1="1242.70" y1="1236.55" x2="1245.88" y2="1239.73" class="tk"/>
<line x1="1295.81" y1="1144.56" x2="1300.15" y2="1145.72" class="tk"/>
<circle cx="1097.60" cy="1091.45" r="209.70" class="oc"/>
<polygon points="1233.9,1089.1 1233.5,1074.8 1237.1,1059.2 1242.6,1041.5 1249.0,1020.8 1244.2,1003.4 1228.9,992.5 1207.7,988.7 1188.6,986.8 1172.1,985.1 1160.8,977.5 1149.2,969.9 1139.2,955.5 1128.6,931.9 1113.4,910.9 1094.3,903.9 1076.0,915.7 1061.8,936.3 1049.7,952.5 1037.9,963.4 1026.3,972.8 1010.7,976.1 995.1,981.5 973.1,983.2 953.8,990.7 938.9,1003.5 942.1,1025.5 947.4,1045.5 948.5,1062.5 957.9,1079.2 961.3,1093.8 961.7,1108.1 958.1,1123.7 952.6,1141.4 946.2,1162.1 951.0,1179.5 966.3,1190.4 987.5,1194.2 1006.6,1196.1 1023.1,1197.8 1034.4,1205.4 1046.0,1213.0 1056.0,1227.4 1066.6,1251.0 1081.8,1272.0 1100.9,1279.0 1119.2,1267.2 1133.4,1246.6 1145.5,1230.4 1157.3,1219.5 1168.9,1210.1 1184.5,1206.8 1200.1,1201.4 1222.1,1199.7 1241.4,1192.2 1256.3,1179.4 1253.1,1157.4 1247.8,1137.4 1246.7,1120.4 1237.3,1103.7" class="dl"/>
<g class="dp"><circle cx="1233.9" cy="1089.1" r="6.45"/><circle cx="1233.5" cy="1074.8" r="6.45"/><circle cx="1237.1" cy="1059.2" r="6.45"/><circle cx="1242.6" cy="1041.5" r="6.45"/><circle cx="1249.0" cy="1020.8" r="6.45"/><circle cx="1244.2" cy="1003.4" r="6.45"/><circle cx="1228.9" cy="992.5" r="6.45"/><circle cx="1207.7" cy="988.7" r="6.45"/><circle cx="1188.6" cy="986.8" r="6.45"/><circle cx="1172.1" cy="985.1" r="6.45"/><circle cx="1160.8" cy="977.5" r="6.45"/><circle cx="1149.2" cy="969.9" r="6.45"/><circle cx="1139.2" cy="955.5" r="6.45"/><circle cx="1128.6" cy="931.9" r="6.45"/><circle cx="1113.4" cy="910.9" r="6.45"/><circle cx="1094.3" cy="903.9" r="6.45"/><circle cx="1076.0" cy="915.7" r="6.45"/><circle cx="1061.8" cy="936.3" r="6.45"/><circle cx="1049.7" cy="952.5" r="6.45"/><circle cx="1037.9" cy="963.4" r="6.45"/><circle cx="1026.3" cy="972.8" r="6.45"/><circle cx="1010.7" cy="976.1" r="6.45"/><circle cx="995.1" cy="981.5" r="6.45"/><circle cx="973.1" cy="983.2" r="6.45"/><circle cx="953.8" cy="990.7" r="6.45"/><circle cx="938.9" cy="1003.5" r="6.45"/><circle cx="942.1" cy="1025.5" r="6.45"/><circle cx="947.4" cy="1045.5" r="6.45"/><circle cx="948.5" cy="1062.5" r="6.45"/><circle cx="957.9" cy="1079.2" r="6.45"/><circle cx="961.3" cy="1093.8" r="6.45"/><circle cx="961.7" cy="1108.1" r="6.45"/><circle cx="958.1" cy="1123.7" r="6.45"/><circle cx="952.6" cy="1141.4" r="6.45"/><circle cx="946.2" cy="1162.1" r="6.45"/><circle cx="951.0" cy="1179.5" r="6.45"/><circle cx="966.3" cy="1190.4" r="6.45"/><circle cx="987.5" cy="1194.2" r="6.45"/><circle cx="1006.6" cy="1196.1" r="6.45"/><circle cx="1023.1" cy="1197.8" r="6.45"/><circle cx="1034.4" cy="1205.4" r="6.45"/><circle cx="1046.0" cy="1213.0" r="6.45"/><circle cx="1056.0" cy="1227.4" r="6.45"/><circle cx="1066.6" cy="1251.0" r="6.45"/><circle cx="1081.8" cy="1272.0" r="6.45"/><circle cx="1100.9" cy="1279.0" r="6.45"/><circle cx="1119.2" cy="1267.2" r="6.45"/><circle cx="1133.4" cy="1246.6" r="6.45"/><circle cx="1145.5" cy="1230.4" r="6.45"/><circle cx="1157.3" cy="1219.5" r="6.45"/><circle cx="1168.9" cy="1210.1" r="6.45"/><circle cx="1184.5" cy="1206.8" r="6.45"/><circle cx="1200.1" cy="1201.4" r="6.45"/><circle cx="1222.1" cy="1199.7" r="6.45"/><circle cx="1241.4" cy="1192.2" r="6.45"/><circle cx="1256.3" cy="1179.4" r="6.45"/><circle cx="1253.1" cy="1157.4" r="6.45"/><circle cx="1247.8" cy="1137.4" r="6.45"/><circle cx="1246.7" cy="1120.4" r="6.45"/><circle cx="1237.3" cy="1103.7" r="6.45"/></g>
<text x="1078.78" y="856.04" style="font-family:'Liberation Sans',sans-serif;font-size:33.43px" fill="#000" textLength="35.93" lengthAdjust="spacingAndGlyphs">90</text>
<text x="943.75" y="891.04" style="font-family:'Liberation Sans',sans-serif;font-size:33.43px" fill="#000" textLength="53.89" lengthAdjust="spacingAndGlyphs">120</text>
<text x="1193.08" y="891.04" style="font-family:'Liberation Sans',sans-serif;font-size:33.43px" fill="#000" textLength="35.93" lengthAdjust="spacingAndGlyphs">60</text>
<text x="853.05" y="979.74" style="font-family:'Liberation Sans',sans-serif;font-size:33.43px" fill="#000" textLength="53.89" lengthAdjust="spacingAndGlyphs">150</text>
<text x="1284.93" y="979.74" style="font-family:'Liberation Sans',sans-serif;font-size:33.43px" fill="#000" textLength="35.93" lengthAdjust="spacingAndGlyphs">30</text>
<text x="822.85" y="1100.74" style="font-family:'Liberation Sans',sans-serif;font-size:33.43px" fill="#000" textLength="53.89" lengthAdjust="spacingAndGlyphs">180</text>
<text x="1318.72" y="1100.74" style="font-family:'Liberation Sans',sans-serif;font-size:33.43px" fill="#000" textLength="17.96" lengthAdjust="spacingAndGlyphs">0</text>
<text x="852.20" y="1222.84" style="font-family:'Liberation Sans',sans-serif;font-size:33.43px" fill="#000" textLength="53.89" lengthAdjust="spacingAndGlyphs">210</text>
<text x="1284.15" y="1222.84" style="font-family:'Liberation Sans',sans-serif;font-size:33.43px" fill="#000" textLength="53.89" lengthAdjust="spacingAndGlyphs">330</text>
<text x="943.00" y="1311.54" style="font-family:'Liberation Sans',sans-serif;font-size:33.43px" fill="#000" textLength="53.89" lengthAdjust="spacingAndGlyphs">240</text>
<text x="1193.85" y="1311.54" style="font-family:'Liberation Sans',sans-serif;font-size:33.43px" fill="#000" textLength="53.89" lengthAdjust="spacingAndGlyphs">300</text>
<text x="1070.00" y="1341.84" style="font-family:'Liberation Sans',sans-serif;font-size:33.43px" fill="#000" textLength="53.89" lengthAdjust="spacingAndGlyphs">270</text>
<path d="M781.90 881.60H791.40V1091.20H781.90" class="ax"/>
<line x1="781.90" y1="1021.33" x2="791.40" y2="1021.33" class="ax"/>
<line x1="781.90" y1="951.47" x2="791.40" y2="951.47" class="ax"/>
<line x1="786.20" y1="1056.27" x2="791.40" y2="1056.27" class="ax"/>
<line x1="786.20" y1="986.40" x2="791.40" y2="986.40" class="ax"/>
<line x1="786.20" y1="916.53" x2="791.40" y2="916.53" class="ax"/>
<text x="764.56" y="1098.01" style="font-family:'Liberation Sans',sans-serif;font-size:27.94px" fill="#000" textLength="15.02" lengthAdjust="spacingAndGlyphs">0</text>
<text x="719.51" y="1028.14" style="font-family:'Liberation Sans',sans-serif;font-size:27.94px" fill="#000" textLength="60.06" lengthAdjust="spacingAndGlyphs">5000</text>
<text x="704.49" y="958.27" style="font-family:'Liberation Sans',sans-serif;font-size:27.94px" fill="#000" textLength="75.08" lengthAdjust="spacingAndGlyphs">10000</text>
<text x="704.49" y="888.41" style="font-family:'Liberation Sans',sans-serif;font-size:27.94px" fill="#000" textLength="75.08" lengthAdjust="spacingAndGlyphs">15000</text>
<text x="1064.88" y="1100.79" style="font-family:'Liberation Sans',sans-serif;font-size:33.12px" fill="#000" textLength="67.85" lengthAdjust="spacingAndGlyphs">X1.3</text>
<circle cx="1804.50" cy="1085.40" r="26.21" class="mn"/>
<circle cx="1804.50" cy="1085.40" r="78.64" class="mn"/>
<circle cx="1804.50" cy="1085.40" r="131.06" class="mn"/>
<circle cx="1804.50" cy="1085.40" r="183.49" class="mn"/>
<circle cx="1804.50" cy="1085.40" r="52.42" class="mj"/>
<circle cx="1804.50" cy="1085.40" r="104.85" class="mj"/>
<circle cx="1804.50" cy="1085.40" r="157.27" class="mj"/>
<line x1="1829.82" y1="1078.62" x2="2007.05" y2="1031.13" class="mn"/>
<line x1="1823.04" y1="1066.86" x2="1952.78" y2="937.12" class="mn"/>
<line x1="1811.28" y1="1060.08" x2="1858.77" y2="882.85" class="mn"/>
<line x1="1797.72" y1="1060.08" x2="1750.23" y2="882.85" class="mn"/>
<line x1="1785.96" y1="1066.86" x2="1656.22" y2="937.12" class="mn"/>
<line x1="1779.18" y1="1078.62" x2="1601.95" y2="1031.13" class="mn"/>
<line x1="1779.18" y1="1092.18" x2="1601.95" y2="1139.67" class="mn"/>
<line x1="1785.96" y1="1103.94" x2="1656.22" y2="1233.68" class="mn"/>
<line x1="1797.72" y1="1110.72" x2="1750.23" y2="1287.95" class="mn"/>
<line x1="1811.28" y1="1110.72" x2="1858.77" y2="1287.95" class="mn"/>
<line x1="1823.04" y1="1103.94" x2="1952.78" y2="1233.68" class="mn"/>
<line x1="1829.82" y1="1092.18" x2="2007.05" y2="1139.67" class="mn"/>
<line x1="1830.71" y1="1085.40" x2="2014.20" y2="1085.40" class="mjx"/>
<line x1="1827.20" y1="1072.29" x2="1986.11" y2="980.55" class="mj"/>
<line x1="1817.61" y1="1062.70" x2="1909.35" y2="903.79" class="mj"/>
<line x1="1804.50" y1="1059.19" x2="1804.50" y2="875.70" class="mjx"/>
<line x1="1791.39" y1="1062.70" x2="1699.65" y2="903.79" class="mj"/>
<line x1="1781.80" y1="1072.29" x2="1622.89" y2="980.55" class="mj"/>
<line x1="1778.29" y1="1085.40" x2="1594.80" y2="1085.40" class="mjx"/>
<line x1="1781.80" y1="1098.51" x2="1622.89" y2="1190.25" class="mj"/>
<line x1="1791.39" y1="1108.10" x2="1699.65" y2="1267.01" class="mj"/>
<line x1="1804.50" y1="1111.61" x2="1804.50" y2="1295.10" class="mjx"/>
<line x1="1817.61" y1="1108.10" x2="1909.35" y2="1267.01" class="mj"/>
<line x1="1827.20" y1="1098.51" x2="1986.11" y2="1190.25" class="mj"/>
<line x1="2004.70" y1="1085.40" x2="2014.20" y2="1085.40" class="tk"/>
<line x1="1977.88" y1="985.30" x2="1986.11" y2="980.55" class="tk"/>
<line x1="1904.60" y1="912.02" x2="1909.35" y2="903.79" class="tk"/>
<line x1="1804.50" y1="885.20" x2="1804.50" y2="875.70" class="tk"/>
<line x1="1704.40" y1="912.02" x2="1699.65" y2="903.79" class="tk"/>
<line x1="1631.12" y1="985.30" x2="1622.89" y2="980.55" class="tk"/>
<line x1="1604.30" y1="1085.40" x2="1594.80" y2="1085.40" class="tk"/>
<line x1="1631.12" y1="1185.50" x2="1622.89" y2="1190.25" class="tk"/>
<line x1="1704.40" y1="1258.78" x2="1699.65" y2="1267.01" class="tk"/>
<line x1="1804.50" y1="1285.60" x2="1804.50" y2="1295.10" class="tk"/>
<line x1="1904.60" y1="1258.78" x2="1909.35" y2="1267.01" class="tk"/>
<line x1="1977.88" y1="1185.50" x2="1986.11" y2="1190.25" class="tk"/>
<line x1="2002.71" y1="1032.29" x2="2007.05" y2="1031.13" class="tk"/>
<line x1="1949.60" y1="940.30" x2="1952.78" y2="937.12" class="tk"/>
<line x1="1857.61" y1="887.19" x2="1858.77" y2="882.85" class="tk"/>
<line x1="1751.39" y1="887.19" x2="1750.23" y2="882.85" class="tk"/>
<line x1="1659.40" y1="940.30" x2="1656.22" y2="937.12" class="tk"/>
<line x1="1606.29" y1="1032.29" x2="1601.95" y2="1031.13" class="tk"/>
<line x1="1606.29" y1="1138.51" x2="1601.95" y2="1139.67" class="tk"/>
<line x1="1659.40" y1="1230.50" x2="1656.22" y2="1233.68" class="tk"/>
<line x1="1751.39" y1="1283.61" x2="1750.23" y2="1287.95" class="tk"/>
<line x1="1857.61" y1="1283.61" x2="1858.77" y2="1287.95" class="tk"/>
<line x1="1949.60" y1="1230.50" x2="1952.78" y2="1233.68" class="tk"/>
<line x1="2002.71" y1="1138.51" x2="2007.05" y2="1139.67" class="tk"/>
<circle cx="1804.50" cy="1085.40" r="209.70" class="oc"/>
<polygon points="1972.2,1082.5 1966.8,1065.5 1963.0,1048.8 1942.5,1037.9 1930.7,1026.6 1925.0,1013.0 1917.9,999.9 1916.0,981.5 1910.9,963.0 1895.7,955.2 1881.4,946.7 1868.1,935.6 1851.6,931.4 1833.3,937.1 1817.5,937.0 1801.8,933.3 1785.6,931.5 1766.7,921.5 1748.0,921.4 1733.0,932.1 1720.0,944.7 1704.4,952.6 1696.1,969.1 1691.4,987.1 1686.4,1002.7 1676.7,1014.6 1666.6,1026.9 1646.6,1037.1 1634.9,1052.4 1637.2,1070.8 1636.8,1088.3 1642.2,1105.3 1646.0,1122.0 1666.5,1132.9 1678.3,1144.2 1684.0,1157.8 1691.1,1170.9 1693.0,1189.3 1698.1,1207.8 1713.3,1215.6 1727.6,1224.1 1740.9,1235.2 1757.4,1239.4 1775.7,1233.7 1791.5,1233.8 1807.2,1237.5 1823.4,1239.3 1842.3,1249.3 1861.0,1249.4 1876.0,1238.7 1889.0,1226.1 1904.6,1218.2 1912.9,1201.7 1917.6,1183.7 1922.6,1168.1 1932.3,1156.2 1942.4,1143.9 1962.4,1133.7 1974.1,1118.4 1971.8,1100.0" class="dl"/>
<g class="dp"><circle cx="1972.2" cy="1082.5" r="6.45"/><circle cx="1966.8" cy="1065.5" r="6.45"/><circle cx="1963.0" cy="1048.8" r="6.45"/><circle cx="1942.5" cy="1037.9" r="6.45"/><circle cx="1930.7" cy="1026.6" r="6.45"/><circle cx="1925.0" cy="1013.0" r="6.45"/><circle cx="1917.9" cy="999.9" r="6.45"/><circle cx="1916.0" cy="981.5" r="6.45"/><circle cx="1910.9" cy="963.0" r="6.45"/><circle cx="1895.7" cy="955.2" r="6.45"/><circle cx="1881.4" cy="946.7" r="6.45"/><circle cx="1868.1" cy="935.6" r="6.45"/><circle cx="1851.6" cy="931.4" r="6.45"/><circle cx="1833.3" cy="937.1" r="6.45"/><circle cx="1817.5" cy="937.0" r="6.45"/><circle cx="1801.8" cy="933.3" r="6.45"/><circle cx="1785.6" cy="931.5" r="6.45"/><circle cx="1766.7" cy="921.5" r="6.45"/><circle cx="1748.0" cy="921.4" r="6.45"/><circle cx="1733.0" cy="932.1" r="6.45"/><circle cx="1720.0" cy="944.7" r="6.45"/><circle cx="1704.4" cy="952.6" r="6.45"/><circle cx="1696.1" cy="969.1" r="6.45"/><circle cx="1691.4" cy="987.1" r="6.45"/><circle cx="1686.4" cy="1002.7" r="6.45"/><circle cx="1676.7" cy="1014.6" r="6.45"/><circle cx="1666.6" cy="1026.9" r="6.45"/><circle cx="1646.6" cy="1037.1" r="6.45"/><circle cx="1634.9" cy="1052.4" r="6.45"/><circle cx="1637.2" cy="1070.8" r="6.45"/><circle cx="1636.8" cy="1088.3" r="6.45"/><circle cx="1642.2" cy="1105.3" r="6.45"/><circle cx="1646.0" cy="1122.0" r="6.45"/><circle cx="1666.5" cy="1132.9" r="6.45"/><circle cx="1678.3" cy="1144.2" r="6.45"/><circle cx="1684.0" cy="1157.8" r="6.45"/><circle cx="1691.1" cy="1170.9" r="6.45"/><circle cx="1693.0" cy="1189.3" r="6.45"/><circle cx="1698.1" cy="1207.8" r="6.45"/><circle cx="1713.3" cy="1215.6" r="6.45"/><circle cx="1727.6" cy="1224.1" r="6.45"/><circle cx="1740.9" cy="1235.2" r="6.45"/><circle cx="1757.4" cy="1239.4" r="6.45"/><circle cx="1775.7" cy="1233.7" r="6.45"/><circle cx="1791.5" cy="1233.8" r="6.45"/><circle cx="1807.2" cy="1237.5" r="6.45"/><circle cx="1823.4" cy="1239.3" r="6.45"/><circle cx="1842.3" cy="1249.3" r="6.45"/><circle cx="1861.0" cy="1249.4" r="6.45"/><circle cx="1876.0" cy="1238.7" r="6.45"/><circle cx="1889.0" cy="1226.1" r="6.45"/><circle cx="1904.6" cy="1218.2" r="6.45"/><circle cx="1912.9" cy="1201.7" r="6.45"/><circle cx="1917.6" cy="1183.7" r="6.45"/><circle cx="1922.6" cy="1168.1" r="6.45"/><circle cx="1932.3" cy="1156.2" r="6.45"/><circle cx="1942.4" cy="1143.9" r="6.45"/><circle cx="1962.4" cy="1133.7" r="6.45"/><circle cx="1974.1" cy="1118.4" r="6.45"/><circle cx="1971.8" cy="1100.0" r="6.45"/></g>
<text x="1785.68" y="849.99" style="font-family:'Liberation Sans',sans-serif;font-size:33.43px" fill="#000" textLength="35.93" lengthAdjust="spacingAndGlyphs">90</text>
<text x="1650.65" y="884.99" style="font-family:'Liberation Sans',sans-serif;font-size:33.43px" fill="#000" textLength="53.89" lengthAdjust="spacingAndGlyphs">120</text>
<text x="1899.98" y="884.99" style="font-family:'Liberation Sans',sans-serif;font-size:33.43px" fill="#000" textLength="35.93" lengthAdjust="spacingAndGlyphs">60</text>
<text x="1559.95" y="973.69" style="font-family:'Liberation Sans',sans-serif;font-size:33.43px" fill="#000" textLength="53.89" lengthAdjust="spacingAndGlyphs">150</text>
<text x="1991.83" y="973.69" style="font-family:'Liberation Sans',sans-serif;font-size:33.43px" fill="#000" textLength="35.93" lengthAdjust="spacingAndGlyphs">30</text>
<text x="1529.75" y="1094.69" style="font-family:'Liberation Sans',sans-serif;font-size:33.43px" fill="#000" textLength="53.89" lengthAdjust="spacingAndGlyphs">180</text>
<text x="2025.62" y="1094.69" style="font-family:'Liberation Sans',sans-serif;font-size:33.43px" fill="#000" textLength="17.96" lengthAdjust="spacingAndGlyphs">0</text>
<text x="1559.10" y="1216.79" style="font-family:'Liberation Sans',sans-serif;font-size:33.43px" fill="#000" textLength="53.89" lengthAdjust="spacingAndGlyphs">210</text>
<text x="1991.05" y="1216.79" style="font-family:'Liberation Sans',sans-serif;font-size:33.43px" fill="#000" textLength="53.89" lengthAdjust="spacingAndGlyphs">330</text>
<text x="1649.90" y="1305.49" style="font-family:'Liberation Sans',sans-serif;font-size:33.43px" fill="#000" textLength="53.89" lengthAdjust="spacingAndGlyphs">240</text>
<text x="1900.75" y="1305.49" style="font-family:'Liberation Sans',sans-serif;font-size:33.43px" fill="#000" textLength="53.89" lengthAdjust="spacingAndGlyphs">300</text>
<text x="1776.90" y="1335.79" style="font-family:'Liberation Sans',sans-serif;font-size:33.43px" fill="#000" textLength="53.89" lengthAdjust="spacingAndGlyphs">270</text>
<path d="M1489.10 875.30H1498.60V1085.00H1489.10" class="ax"/>
<line x1="1489.10" y1="1032.58" x2="1498.60" y2="1032.58" class="ax"/>
<line x1="1489.10" y1="980.15" x2="1498.60" y2="980.15" class="ax"/>
<line x1="1489.10" y1="927.72" x2="1498.60" y2="927.72" class="ax"/>
<line x1="1493.40" y1="1058.79" x2="1498.60" y2="1058.79" class="ax"/>
<line x1="1493.40" y1="1006.36" x2="1498.60" y2="1006.36" class="ax"/>
<line x1="1493.40" y1="953.94" x2="1498.60" y2="953.94" class="ax"/>
<line x1="1493.40" y1="901.51" x2="1498.60" y2="901.51" class="ax"/>
<text x="1470.86" y="1091.61" style="font-family:'Liberation Sans',sans-serif;font-size:27.94px" fill="#000" textLength="15.02" lengthAdjust="spacingAndGlyphs">0</text>
<text x="1425.81" y="1039.18" style="font-family:'Liberation Sans',sans-serif;font-size:27.94px" fill="#000" textLength="60.06" lengthAdjust="spacingAndGlyphs">5000</text>
<text x="1410.79" y="986.76" style="font-family:'Liberation Sans',sans-serif;font-size:27.94px" fill="#000" textLength="75.08" lengthAdjust="spacingAndGlyphs">10000</text>
<text x="1410.79" y="934.33" style="font-family:'Liberation Sans',sans-serif;font-size:27.94px" fill="#000" textLength="75.08" lengthAdjust="spacingAndGlyphs">15000</text>
<text x="1410.79" y="881.91" style="font-family:'Liberation Sans',sans-serif;font-size:27.94px" fill="#000" textLength="75.08" lengthAdjust="spacingAndGlyphs">20000</text>
<text x="741.20" y="52.00" style="font-family:'Liberation Sans',sans-serif;font-weight:bold;font-size:48.00px" fill="#000">b</text>
<text x="1422.80" y="41.15" style="font-family:'Liberation Sans',sans-serif;font-weight:bold;font-size:48.00px" fill="#000">c</text>
<text x="20.40" y="775.10" style="font-family:'Liberation Sans',sans-serif;font-weight:bold;font-size:48.00px" fill="#000">d</text>
<text x="724.50" y="748.85" style="font-family:'Liberation Sans',sans-serif;font-weight:bold;font-size:48.00px" fill="#000">e</text>
<text x="1441.38" y="752.60" style="font-family:'Liberation Sans',sans-serif;font-weight:bold;font-size:48.00px" fill="#000" textLength="17.46" lengthAdjust="spacingAndGlyphs">f</text>
<text x="899.07" y="45.50" style="font-family:'Liberation Serif',serif;font-style:italic;font-size:43.68px" fill="#000" textLength="12.11" lengthAdjust="spacingAndGlyphs" stroke="#000" stroke-width="0.55">I</text>
<text x="912.49" y="55.00" style="font-family:'Liberation Serif',serif;font-style:italic;font-size:33.90px" fill="#000" textLength="52.36" lengthAdjust="spacingAndGlyphs" stroke="#000" stroke-width="0.55">exc</text>
<text x="980.16" y="47.00" style="font-family:'Liberation Serif',serif;font-size:40.04px" fill="#000" textLength="32.97" lengthAdjust="spacingAndGlyphs" stroke="#000" stroke-width="0.55">=</text>
<text x="1025.51" y="45.20" style="font-family:'Liberation Serif',serif;font-size:45.50px" fill="#000" textLength="72.70" lengthAdjust="spacingAndGlyphs" stroke="#000" stroke-width="0.55">125</text>
<text x="1097.45" y="45.20" style="font-family:'Liberation Serif',serif;font-style:italic;font-size:45.50px" fill="#000" textLength="67.87" lengthAdjust="spacingAndGlyphs" stroke="#000" stroke-width="0.55">GW</text>
<text x="1175.08" y="53.20" style="font-family:'Liberation Serif',serif;font-style:italic;font-size:56.88px" fill="#000" textLength="13.54" lengthAdjust="spacingAndGlyphs" stroke="#000" stroke-width="0.55">/</text>
<text x="1194.12" y="45.20" style="font-family:'Liberation Serif',serif;font-style:italic;font-size:45.50px" fill="#000" textLength="57.90" lengthAdjust="spacingAndGlyphs" stroke="#000" stroke-width="0.55">cm</text>
<text x="1251.40" y="30.40" style="font-family:'Liberation Serif',serif;font-size:31.85px" fill="#000" textLength="17.54" lengthAdjust="spacingAndGlyphs" stroke="#000" stroke-width="0.55">2</text>
<text x="1598.97" y="44.10" style="font-family:'Liberation Serif',serif;font-style:italic;font-size:43.68px" fill="#000" textLength="12.11" lengthAdjust="spacingAndGlyphs" stroke="#000" stroke-width="0.55">I</text>
<text x="1612.39" y="53.60" style="font-family:'Liberation Serif',serif;font-style:italic;font-size:33.90px" fill="#000" textLength="52.36" lengthAdjust="spacingAndGlyphs" stroke="#000" stroke-width="0.55">exc</text>
<text x="1680.06" y="45.60" style="font-family:'Liberation Serif',serif;font-size:40.04px" fill="#000" textLength="32.97" lengthAdjust="spacingAndGlyphs" stroke="#000" stroke-width="0.55">=</text>
<text x="1726.05" y="43.80" style="font-family:'Liberation Serif',serif;font-size:45.50px" fill="#000" textLength="69.50" lengthAdjust="spacingAndGlyphs" stroke="#000" stroke-width="0.55">235</text>
<text x="1809.30" y="43.80" style="font-family:'Liberation Serif',serif;font-style:italic;font-size:45.50px" fill="#000" textLength="66.41" lengthAdjust="spacingAndGlyphs" stroke="#000" stroke-width="0.55">GW</text>
<text x="1882.98" y="51.80" style="font-family:'Liberation Serif',serif;font-style:italic;font-size:56.88px" fill="#000" textLength="13.54" lengthAdjust="spacingAndGlyphs" stroke="#000" stroke-width="0.55">/</text>
<text x="1902.02" y="43.80" style="font-family:'Liberation Serif',serif;font-style:italic;font-size:45.50px" fill="#000" textLength="57.90" lengthAdjust="spacingAndGlyphs" stroke="#000" stroke-width="0.55">cm</text>
<text x="1959.30" y="29.00" style="font-family:'Liberation Serif',serif;font-size:31.85px" fill="#000" textLength="17.54" lengthAdjust="spacingAndGlyphs" stroke="#000" stroke-width="0.55">2</text>
<text x="181.77" y="777.90" style="font-family:'Liberation Serif',serif;font-style:italic;font-size:43.68px" fill="#000" textLength="12.11" lengthAdjust="spacingAndGlyphs" stroke="#000" stroke-width="0.55">I</text>
<text x="195.19" y="787.40" style="font-family:'Liberation Serif',serif;font-style:italic;font-size:33.90px" fill="#000" textLength="52.36" lengthAdjust="spacingAndGlyphs" stroke="#000" stroke-width="0.55">exc</text>
<text x="262.86" y="779.40" style="font-family:'Liberation Serif',serif;font-size:40.04px" fill="#000" textLength="32.97" lengthAdjust="spacingAndGlyphs" stroke="#000" stroke-width="0.55">=</text>
<text x="308.10" y="777.60" style="font-family:'Liberation Serif',serif;font-size:45.50px" fill="#000" textLength="70.26" lengthAdjust="spacingAndGlyphs" stroke="#000" stroke-width="0.55">305</text>
<text x="392.10" y="777.60" style="font-family:'Liberation Serif',serif;font-style:italic;font-size:45.50px" fill="#000" textLength="66.41" lengthAdjust="spacingAndGlyphs" stroke="#000" stroke-width="0.55">GW</text>
<text x="465.78" y="785.60" style="font-family:'Liberation Serif',serif;font-style:italic;font-size:56.88px" fill="#000" textLength="13.54" lengthAdjust="spacingAndGlyphs" stroke="#000" stroke-width="0.55">/</text>
<text x="484.82" y="777.60" style="font-family:'Liberation Serif',serif;font-style:italic;font-size:45.50px" fill="#000" textLength="57.90" lengthAdjust="spacingAndGlyphs" stroke="#000" stroke-width="0.55">cm</text>
<text x="542.10" y="762.80" style="font-family:'Liberation Serif',serif;font-size:31.85px" fill="#000" textLength="17.54" lengthAdjust="spacingAndGlyphs" stroke="#000" stroke-width="0.55">2</text>
<text x="893.27" y="767.90" style="font-family:'Liberation Serif',serif;font-style:italic;font-size:43.68px" fill="#000" textLength="12.11" lengthAdjust="spacingAndGlyphs" stroke="#000" stroke-width="0.55">I</text>
<text x="906.69" y="777.40" style="font-family:'Liberation Serif',serif;font-style:italic;font-size:33.90px" fill="#000" textLength="52.36" lengthAdjust="spacingAndGlyphs" stroke="#000" stroke-width="0.55">exc</text>
<text x="974.36" y="769.40" style="font-family:'Liberation Serif',serif;font-size:40.04px" fill="#000" textLength="32.97" lengthAdjust="spacingAndGlyphs" stroke="#000" stroke-width="0.55">=</text>
<text x="1019.60" y="767.60" style="font-family:'Liberation Serif',serif;font-size:45.50px" fill="#000" textLength="70.26" lengthAdjust="spacingAndGlyphs" stroke="#000" stroke-width="0.55">350</text>
<text x="1103.60" y="767.60" style="font-family:'Liberation Serif',serif;font-style:italic;font-size:45.50px" fill="#000" textLength="66.41" lengthAdjust="spacingAndGlyphs" stroke="#000" stroke-width="0.55">GW</text>
<text x="1177.28" y="775.60" style="font-family:'Liberation Serif',serif;font-style:italic;font-size:56.88px" fill="#000" textLength="13.54" lengthAdjust="spacingAndGlyphs" stroke="#000" stroke-width="0.55">/</text>
<text x="1196.32" y="767.60" style="font-family:'Liberation Serif',serif;font-style:italic;font-size:45.50px" fill="#000" textLength="57.90" lengthAdjust="spacingAndGlyphs" stroke="#000" stroke-width="0.55">cm</text>
<text x="1253.60" y="752.80" style="font-family:'Liberation Serif',serif;font-size:31.85px" fill="#000" textLength="17.54" lengthAdjust="spacingAndGlyphs" stroke="#000" stroke-width="0.55">2</text>
<text x="1591.07" y="767.90" style="font-family:'Liberation Serif',serif;font-style:italic;font-size:43.68px" fill="#000" textLength="12.11" lengthAdjust="spacingAndGlyphs" stroke="#000" stroke-width="0.55">I</text>
<text x="1604.49" y="777.40" style="font-family:'Liberation Serif',serif;font-style:italic;font-size:33.90px" fill="#000" textLength="52.36" lengthAdjust="spacingAndGlyphs" stroke="#000" stroke-width="0.55">exc</text>
<text x="1672.16" y="769.40" style="font-family:'Liberation Serif',serif;font-size:40.04px" fill="#000" textLength="32.97" lengthAdjust="spacingAndGlyphs" stroke="#000" stroke-width="0.55">=</text>
<text x="1717.40" y="767.60" style="font-family:'Liberation Serif',serif;font-size:45.50px" fill="#000" textLength="70.26" lengthAdjust="spacingAndGlyphs" stroke="#000" stroke-width="0.55">380</text>
<text x="1801.40" y="767.60" style="font-family:'Liberation Serif',serif;font-style:italic;font-size:45.50px" fill="#000" textLength="66.41" lengthAdjust="spacingAndGlyphs" stroke="#000" stroke-width="0.55">GW</text>
<text x="1875.08" y="775.60" style="font-family:'Liberation Serif',serif;font-style:italic;font-size:56.88px" fill="#000" textLength="13.54" lengthAdjust="spacingAndGlyphs" stroke="#000" stroke-width="0.55">/</text>
<text x="1894.12" y="767.60" style="font-family:'Liberation Serif',serif;font-style:italic;font-size:45.50px" fill="#000" textLength="57.90" lengthAdjust="spacingAndGlyphs" stroke="#000" stroke-width="0.55">cm</text>
<text x="1951.40" y="752.80" style="font-family:'Liberation Serif',serif;font-size:31.85px" fill="#000" textLength="17.54" lengthAdjust="spacingAndGlyphs" stroke="#000" stroke-width="0.55">2</text>
</svg></body></html>
